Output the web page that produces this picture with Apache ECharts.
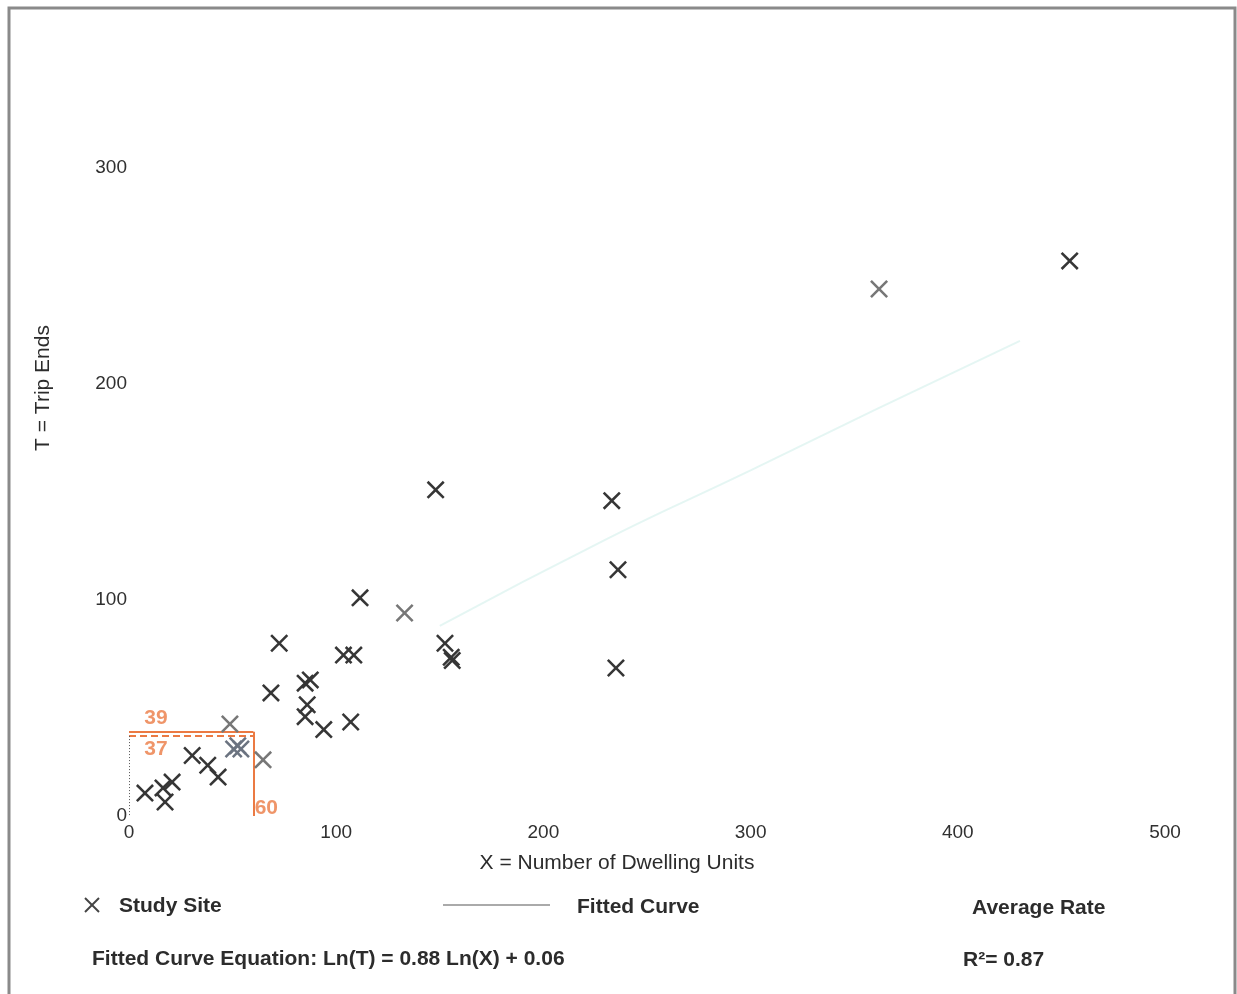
<!DOCTYPE html>
<html>
<head>
<meta charset="utf-8">
<script src="https://cdn.jsdelivr.net/npm/echarts@6/dist/echarts.min.js"></script>
<style>
  html, body { margin: 0; padding: 0; background: #ffffff; }
  #chart { width: 1237px; height: 994px; }
</style>
</head>
<body>
<div id="chart"></div>
<script>
// Study sites: [dwelling units, trip ends]
const sitesDark = [
  [454, 257], [233, 146], [236, 114], [235, 68.5], [148, 151],
  [111.5, 101], [152.5, 80], [156, 72], [155.5, 73.5], [72.5, 80],
  [103.5, 74.5], [108.5, 74.5], [68.5, 57], [85, 61.5], [87.5, 63],
  [86, 51.5], [85, 46], [94, 40], [107, 43.5], [30.5, 28],
  [38, 23.5], [43, 18], [7.7, 10.6], [16.4, 13], [20.8, 15.7], [17.4, 6.5]
];
const sitesLight = [
  [362, 244], [133, 94], [48.7, 42.6], [64.7, 26]
];
const sitesBlue = [
  [50.5, 31], [52.5, 32.5], [54, 31]
];

// Faint fitted curve trace
const fittedCurve = [[150, 88], [230, 128], [300, 160], [360, 188], [430, 220]];

// Annotated average: 60 dwelling units -> 39 (rate) / 37 (curve) trip ends
const annotUnits = 60;
const annotRate = 39;
const annotCurve = 37;

const xTicks = [0, 100, 200, 300, 400, 500];
const yTicks = [0, 100, 200, 300];

const xTitle = 'X = Number of Dwelling Units';
const yTitle = 'T = Trip Ends';
const equationText = 'Fitted Curve Equation: Ln(T) = 0.88 Ln(X) + 0.06';
const rSquaredText = 'R\u00B2= 0.87';

const FONT = '"Liberation Sans", Arial, sans-serif';
const ORANGE = '#eb7a43';
const INK = '#2c2c2c';
const CROSS = 'path://M0,10L10,0L50,40L90,0L100,10L60,50L100,90L90,100L50,60L10,100L0,90L40,50Z';

const chart = echarts.init(document.getElementById('chart'), null, { renderer: 'canvas' });

function crossSeries(name, data, color) {
  return {
    name: name,
    type: 'scatter',
    data: data,
    symbol: CROSS,
    symbolSize: 18,
    itemStyle: { color: color, opacity: 1 },
    z: 5
  };
}

const option = {
  backgroundColor: '#ffffff',
  animation: false,
  textStyle: { fontFamily: FONT },
  grid: { left: 129, right: 72, top: 168, bottom: 178 },
  xAxis: {
    type: 'value',
    min: xTicks[0],
    max: xTicks[xTicks.length - 1],
    interval: 100,
    axisLine: { show: false },
    axisTick: { show: false },
    splitLine: { show: false },
    axisLabel: {
      margin: 7, fontSize: 19, color: '#303030', fontFamily: FONT,
      formatter: v => (xTicks.indexOf(v) >= 0 ? String(v) : '')
    }
  },
  yAxis: {
    type: 'value',
    min: yTicks[0],
    max: yTicks[yTicks.length - 1],
    interval: 100,
    axisLine: { show: false },
    axisTick: { show: false },
    splitLine: { show: false },
    axisLabel: {
      margin: 2, fontSize: 19, color: '#303030', fontFamily: FONT,
      formatter: v => (yTicks.indexOf(v) >= 0 ? String(v) : '')
    }
  },
  series: [
    {
      name: 'Fitted Curve',
      type: 'line',
      data: fittedCurve,
      smooth: true,
      showSymbol: false,
      lineStyle: { color: '#cfeeea', width: 2, opacity: 0.55 },
      z: 1
    },
    {
      name: 'Average Rate',
      type: 'line',
      data: [],
      markLine: {
        silent: true,
        symbol: 'none',
        label: { show: false },
        data: [
          [{ coord: [0, annotRate], lineStyle: { color: ORANGE, width: 2, type: 'solid' } },
           { coord: [annotUnits, annotRate] }],
          [{ coord: [annotUnits, annotRate], lineStyle: { color: ORANGE, width: 2, type: 'solid' } },
           { coord: [annotUnits, 0] }],
          [{ coord: [0, annotCurve], lineStyle: { color: ORANGE, width: 2, type: [7, 4] } },
           { coord: [annotUnits, annotCurve] }],
          [{ coord: [0, annotCurve], lineStyle: { color: '#555555', width: 1, type: [1, 2] } },
           { coord: [0, 0] }]
        ]
      },
      z: 3
    },
    {
      name: 'Annotation Labels',
      type: 'scatter',
      symbolSize: 0,
      silent: true,
      data: [
        { value: [0, annotRate], label: { formatter: String(annotRate), offset: [27, -14] } },
        { value: [0, annotCurve], label: { formatter: String(annotCurve), offset: [27, 13] } },
        { value: [annotUnits, 0], label: { formatter: String(annotUnits), offset: [13, -8] } }
      ],
      label: {
        show: true,
        position: 'inside',
        color: ORANGE,
        fontSize: 21,
        fontWeight: 'bold',
        fontFamily: FONT
      },
      z: 6
    },
    crossSeries('Study Site', sitesDark, '#363636'),
    crossSeries('Study Site', sitesLight, '#777777'),
    crossSeries('Study Site', sitesBlue, '#6b7380')
  ],
  graphic: [
    {
      type: 'rect',
      shape: { x: 9, y: 8, width: 1226, height: 992 },
      style: { fill: 'none', stroke: '#8a8a8a', lineWidth: 3 },
      silent: true, z: 100
    },
    {
      type: 'text',
      x: 617, y: 863,
      style: {
        text: xTitle, fontSize: 21, fontFamily: FONT, fill: INK,
        textAlign: 'center', textVerticalAlign: 'middle'
      }
    },
    {
      type: 'text',
      x: 43, y: 388,
      rotation: Math.PI / 2,
      style: {
        text: yTitle, fontSize: 21, fontFamily: FONT, fill: INK,
        textAlign: 'center', textVerticalAlign: 'middle'
      }
    },
    // legend: study site cross
    {
      type: 'group',
      x: 92, y: 905,
      children: [
        { type: 'line', shape: { x1: -7, y1: -7, x2: 7, y2: 7 }, style: { stroke: '#444444', lineWidth: 2 } },
        { type: 'line', shape: { x1: 7, y1: -7, x2: -7, y2: 7 }, style: { stroke: '#444444', lineWidth: 2 } }
      ]
    },
    {
      type: 'text', x: 119, y: 906,
      style: { text: 'Study Site', fontSize: 21, fontWeight: 'bold', fontFamily: FONT, fill: INK, textVerticalAlign: 'middle' }
    },
    // legend: fitted curve line sample
    {
      type: 'line',
      shape: { x1: 443, y1: 905, x2: 550, y2: 905 },
      style: { stroke: '#8e8e8e', lineWidth: 1.5 }
    },
    {
      type: 'text', x: 577, y: 907,
      style: { text: 'Fitted Curve', fontSize: 21, fontWeight: 'bold', fontFamily: FONT, fill: INK, textVerticalAlign: 'middle' }
    },
    {
      type: 'text', x: 972, y: 908,
      style: { text: 'Average Rate', fontSize: 21, fontWeight: 'bold', fontFamily: FONT, fill: INK, textVerticalAlign: 'middle' }
    },
    {
      type: 'text', x: 92, y: 959,
      style: { text: equationText, fontSize: 21, fontWeight: 'bold', fontFamily: FONT, fill: INK, textVerticalAlign: 'middle' }
    },
    {
      type: 'text', x: 963, y: 960,
      style: { text: rSquaredText, fontSize: 21, fontWeight: 'bold', fontFamily: FONT, fill: INK, textVerticalAlign: 'middle' }
    }
  ]
};

chart.setOption(option);
</script>
</body>
</html>
